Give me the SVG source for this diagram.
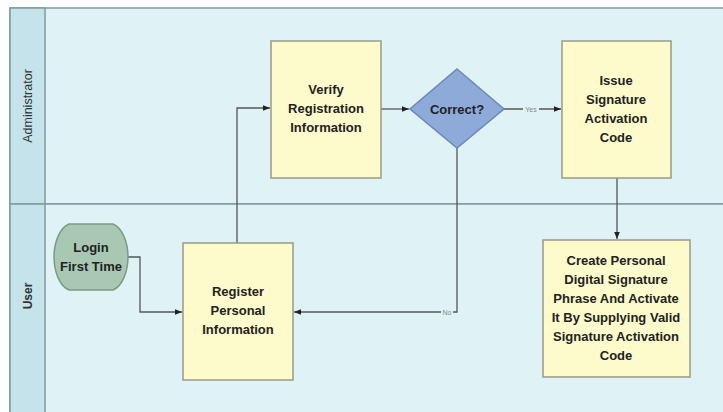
<svg xmlns="http://www.w3.org/2000/svg" width="723" height="412" viewBox="0 0 723 412">
<defs>
<style>
.lane{fill:#dff2f5;stroke:#7f9aa0;stroke-width:1.5}
.hdr{fill:#c5e3eb;stroke:#7f9aa0;stroke-width:1.5}
.box{fill:#fdfbcb;stroke:#9a9a86;stroke-width:1.5}
.t{font-family:"Liberation Sans",Arial,sans-serif;font-weight:bold;font-size:13px;fill:#222;text-anchor:middle}
.lbl{font-family:"Liberation Sans",Arial,sans-serif;font-size:12px;fill:#333;text-anchor:middle}
.c{fill:none;stroke:#555;stroke-width:1.3}
.small{font-family:"Liberation Sans",Arial,sans-serif;font-size:7px;fill:#888;text-anchor:middle}
</style>
<marker id="ar" viewBox="0 0 10 10" refX="10" refY="5" markerWidth="7" markerHeight="7" orient="auto" markerUnits="userSpaceOnUse">
<path d="M0,1 L10,5 L0,9 z" fill="#222"/>
</marker>
</defs>
<rect width="723" height="412" fill="#ffffff"/>
<g id="lanes">
<rect class="lane" x="10" y="8" width="720" height="196"/>
<rect class="lane" x="10" y="204" width="720" height="215"/>
<rect class="hdr" x="10" y="8" width="35" height="196"/>
<rect class="hdr" x="10" y="204" width="35" height="215"/>
<text class="lbl" style="font-size:12.5px" transform="translate(32,106) rotate(-90)">Administrator</text>
<text class="lbl" style="font-weight:bold" transform="translate(32,296) rotate(-90)">User</text>
</g>
<g id="connectors">
<polyline class="c" points="128,257 140,257 140,312 182,312" marker-end="url(#ar)"/>
<polyline class="c" points="237,243 237,108 270,108" marker-end="url(#ar)"/>
<polyline class="c" points="381,109 409,109" marker-end="url(#ar)"/>
<polyline class="c" points="504,109 561,109" marker-end="url(#ar)"/>
<polyline class="c" points="617,178 617,239" marker-end="url(#ar)"/>
<polyline class="c" points="457,148 457,312 294,312" marker-end="url(#ar)"/>
<rect x="523" y="105" width="16" height="8" fill="#dff2f5"/>
<text class="small" x="531" y="111.5">Yes</text>
<rect x="441" y="308" width="12" height="8" fill="#dff2f5"/>
<text class="small" x="447" y="314.5">No</text>
</g>
<g id="login">
<path d="M69,224 H113 C123,228 128,244 128,257 C128,270 123,286 113,290 H69 C59,286 54,270 54,257 C54,244 59,228 69,224 Z" fill="#a9c8b3" stroke="#7c9a85" stroke-width="1.5"/>
<text class="t" x="91" y="252">Login</text>
<text class="t" x="91" y="271">First Time</text>
</g>
<g id="register">
<rect class="box" x="183" y="243" width="110" height="137"/>
<text class="t" x="238" y="296">Register</text>
<text class="t" x="238" y="315">Personal</text>
<text class="t" x="238" y="334">Information</text>
</g>
<g id="verify">
<rect class="box" x="271" y="41" width="110" height="137"/>
<text class="t" x="326" y="94">Verify</text>
<text class="t" x="326" y="113">Registration</text>
<text class="t" x="326" y="132">Information</text>
</g>
<g id="correct">
<polygon points="457,69 504,109 457,148 410,109" fill="#8eaad8" stroke="#6c88b8" stroke-width="1.5"/>
<text class="t" x="457" y="114">Correct?</text>
</g>
<g id="issue">
<rect class="box" x="562" y="41" width="109" height="137"/>
<text class="t" x="616" y="85">Issue</text>
<text class="t" x="616" y="104">Signature</text>
<text class="t" x="616" y="123">Activation</text>
<text class="t" x="616" y="142">Code</text>
</g>
<g id="create">
<rect class="box" x="543" y="240" width="147" height="137"/>
<text class="t" x="616" y="265">Create Personal</text>
<text class="t" x="616" y="284">Digital Signature</text>
<text class="t" x="616" y="303">Phrase And Activate</text>
<text class="t" x="616" y="322">It By Supplying Valid</text>
<text class="t" x="616" y="341">Signature Activation</text>
<text class="t" x="616" y="360">Code</text>
</g>
</svg>
